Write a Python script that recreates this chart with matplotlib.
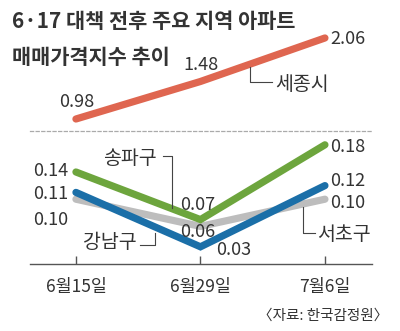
import matplotlib
matplotlib.use("Agg")
import matplotlib.pyplot as plt
from matplotlib.lines import Line2D

plt.rcParams['font.family'] = ['Noto Sans CJK KR', 'DejaVu Sans']

dates = ["6월15일", "6월29일", "7월6일"]
sejong = [0.98, 1.48, 2.06]
songpa = [0.14, 0.07, 0.18]
gangnam = [0.11, 0.03, 0.12]
seocho = [0.10, 0.06, 0.10]

W, H = 400, 331
fig = plt.figure(figsize=(W / 100, H / 100), dpi=100)
fig.patch.set_facecolor("white")

def fx(x):
    return x / W

def fy(y):
    return 1 - y / H

txt = "#333333"
x = range(len(dates))

# top panel (Sejong), bottom panel (Seoul districts)
axt = fig.add_axes([fx(30), fy(131), fx(342), (131 - 10) / H])
axb = fig.add_axes([fx(30), fy(264), fx(342), (264 - 131) / H])

for ax in (axt, axb):
    ax.set_xlim(-0.369, 2.378)
    ax.set_facecolor("none")
    for s in ax.spines.values():
        s.set_visible(False)
    ax.set_yticks([])

axt.set_ylim(0.82, 2.433)
axt.set_xticks([])
axb.set_ylim(0.0047, 0.2003)

axt.plot(x, sejong, color="#df6650", lw=5.2, solid_capstyle="round")
axb.plot(x, seocho, color="#bdbdbd", lw=5.2, solid_capstyle="round")
axb.plot(x, gangnam, color="#1b6fa8", lw=5.2, solid_capstyle="round", solid_joinstyle="miter")
axb.plot(x, songpa, color="#6da53d", lw=5.2, solid_capstyle="round", solid_joinstyle="miter")

axb.spines["bottom"].set_visible(True)
axb.spines["bottom"].set_color("#555555")
axb.spines["bottom"].set_linewidth(1.0)
axb.spines["top"].set_visible(True)
axb.spines["top"].set_color("#aaaaaa")
axb.spines["top"].set_linewidth(0.9)
axb.spines["top"].set_linestyle((0, (2.5, 2)))

axb.set_xticks(list(x))
axb.set_xticklabels(dates, fontsize=12.5, color=txt)
axb.tick_params(axis="x", direction="in", length=6, width=1, color="#555555", pad=10)

def val(ax, xi, v, dx, dy):
    ax.annotate(f"{v:.2f}", (xi, v), xytext=(dx, dy), textcoords="offset pixels",
                ha="center", va="center", fontsize=13, color=txt)

offs_t = [(1, 17), (1, 16), (23, -1)]
for i, v in enumerate(sejong):
    val(axt, i, v, *offs_t[i])

offs_g = [(-25, 1), (-3, 15), (23, -2)]
offs_b = [(-25, -2), (33, -3), (23, 5)]
offs_s = [(-25, -21), (-3, -6), (23, -4)]
for i in x:
    val(axb, i, songpa[i], *offs_g[i])
    val(axb, i, gangnam[i], *offs_b[i])
    val(axb, i, seocho[i], *offs_s[i])

# series names with leader lines
names = [("세종시", 302, 84), ("송파구", 130, 158), ("강남구", 110, 243), ("서초구", 344, 234)]
for n, px, py in names:
    fig.text(fx(px), fy(py), n, ha="center", va="center", fontsize=14, color=txt)

leaders = [
    [(250, 67), (250, 82), (272, 82)],
    [(163, 156), (172, 156), (172, 208)],
    [(140, 245), (155, 245), (155, 233)],
    [(303, 207), (303, 233), (315, 233)],
]
for pts in leaders:
    fig.add_artist(Line2D([fx(p[0]) for p in pts], [fy(p[1]) for p in pts],
                          color="#444444", lw=0.8))

fig.text(fx(12), fy(22), "6·17 대책 전후 주요 지역 아파트", ha="left", va="center",
         fontsize=15, fontweight="bold", color=txt)
fig.text(fx(12), fy(57), "매매가격지수 추이", ha="left", va="center",
         fontsize=15, fontweight="bold", color=txt)
fig.text(fx(388), fy(316), "〈자료: 한국감정원〉", ha="right", va="center",
         fontsize=10.5, color=txt)

fig.savefig("out.png", dpi=100)
